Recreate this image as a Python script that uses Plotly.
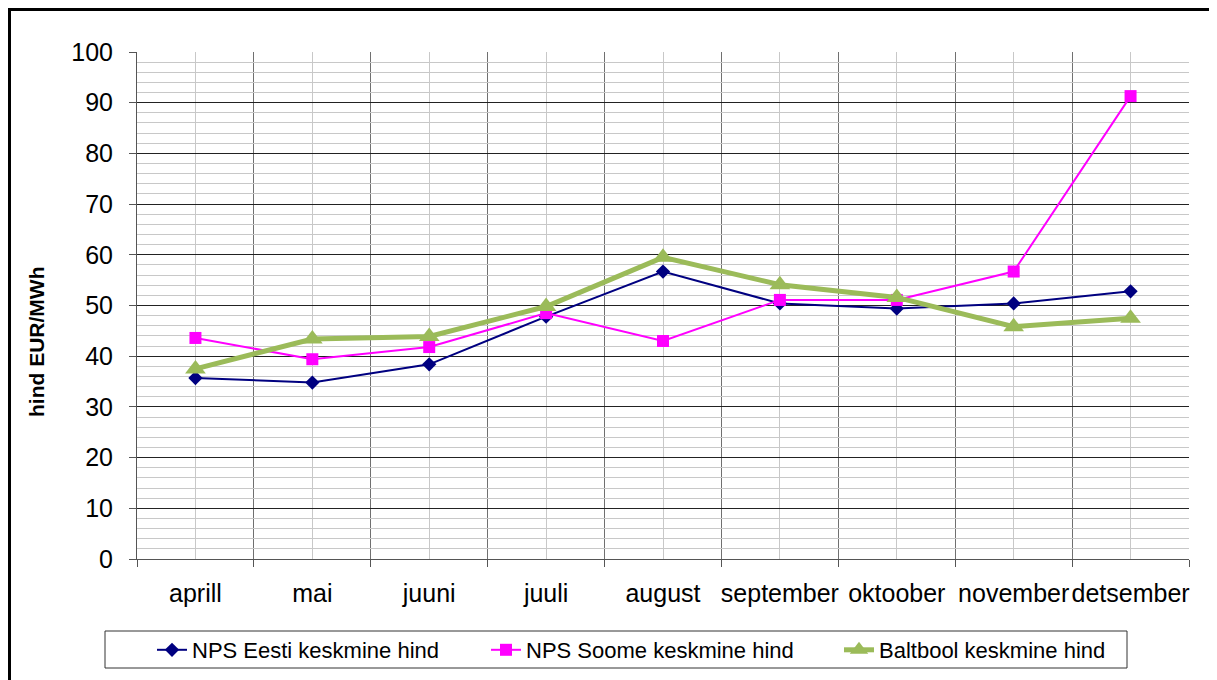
import plotly.graph_objects as go

months = ["aprill", "mai", "juuni", "juuli", "august", "september", "oktoober", "november", "detsember"]
nps_eesti = [35.7, 34.8, 38.4, 47.8, 56.7, 50.4, 49.4, 50.4, 52.8]
nps_soome = [43.6, 39.4, 41.8, 48.5, 43.0, 51.1, 51.1, 56.7, 91.3]
baltbool = [37.5, 43.4, 43.9, 49.8, 59.5, 54.1, 51.6, 45.8, 47.5]

names = ["NPS Eesti keskmine hind", "NPS Soome keskmine hind", "Baltbool keskmine hind"]
y_title = "hind EUR/MWh"

FONT = "Liberation Sans, Arial, sans-serif"
W, H = 1217, 680
S = 8  # page offset of the plot div
L, T = 137 - S, 52 - S
pw, ph = 1052, 507
R = W - L - pw
B = H - T - ph


def px_x(sx):
    return (sx - S - L) / pw


def px_y(sy):
    return (S + T + ph - sy) / ph


x = list(range(len(months)))

fig = go.Figure()
fig.add_trace(go.Scatter(x=x, y=nps_eesti, name=names[0], mode="lines+markers", legend="legend",
                         line=dict(color="#000080", width=2),
                         marker=dict(symbol="diamond", size=11, color="#000080")))
fig.add_trace(go.Scatter(x=x, y=nps_soome, name=names[1], mode="lines+markers", legend="legend2",
                         line=dict(color="#FF00FF", width=2),
                         marker=dict(symbol="square", size=12, color="#FF00FF")))
fig.add_trace(go.Scatter(x=x, y=baltbool, name=names[2], mode="lines+markers", legend="legend3",
                         line=dict(color="#9BBB59", width=5),
                         marker=dict(symbol="triangle-up", size=18, color="#9BBB59")))

leg_common = dict(orientation="h", xanchor="left", yanchor="middle", y=px_y(650),
                  bgcolor="rgba(0,0,0,0)", borderwidth=0,
                  font=dict(size=22, family=FONT, color="black"))

fig.update_layout(
    width=W, height=H,
    margin=dict(l=L, r=R, t=T, b=B, autoexpand=False),
    paper_bgcolor="white", plot_bgcolor="white",
    font=dict(family=FONT, color="black"),
    showlegend=True,
    legend=dict(x=px_x(152), **leg_common),
    legend2=dict(x=px_x(486), **leg_common),
    legend3=dict(x=px_x(839), **leg_common),
    xaxis=dict(
        range=[-0.5, len(months) - 0.5],
        tickmode="array", tickvals=x, ticktext=months, tickangle=0,
        ticks="", showgrid=True, gridcolor="#C8C8C8", gridwidth=1,
        tickfont=dict(size=25, family=FONT, color="black"),
        ticklabelstandoff=12,
        showline=True, linecolor="#555555", linewidth=1,
        zeroline=False,
        minor=dict(tickmode="linear", tick0=0.5, dtick=1, showgrid=True,
                   gridcolor="#707070", gridwidth=1, ticks="outside", ticklen=7,
                   tickcolor="#555555"),
        fixedrange=True,
    ),
    yaxis=dict(
        range=[0, 100], tickmode="linear", tick0=0, dtick=10,
        showgrid=True, gridcolor="#222222", gridwidth=1,
        ticks="outside", ticklen=7, tickcolor="#555555",
        tickfont=dict(size=25, family=FONT, color="black"),
        ticklabelstandoff=11,
        showline=True, linecolor="#555555", linewidth=1,
        zeroline=False,
        minor=dict(dtick=2, showgrid=True, gridcolor="#C8C8C8", gridwidth=1, ticks=""),
        fixedrange=True,
    ),
    annotations=[
        dict(text="<b>" + y_title + "</b>", xref="paper", yref="paper", x=px_x(36), y=px_y(342),
             xanchor="center", yanchor="middle", textangle=-90, showarrow=False,
             font=dict(size=21, family=FONT, color="black")),
    ],
    shapes=[
        dict(type="line", xref="paper", yref="paper", x0=px_x(8), x1=px_x(1240), y0=px_y(9.5), y1=px_y(9.5),
             line=dict(color="black", width=3)),
        dict(type="line", xref="paper", yref="paper", x0=px_x(9.5), x1=px_x(9.5), y0=px_y(8), y1=px_y(700),
             line=dict(color="black", width=3)),
        dict(type="rect", xref="paper", yref="paper", x0=px_x(105), x1=px_x(1127), y0=px_y(631), y1=px_y(668),
             line=dict(color="#333333", width=1), fillcolor="rgba(0,0,0,0)"),
    ],
)

fig.write_html("out.html")
